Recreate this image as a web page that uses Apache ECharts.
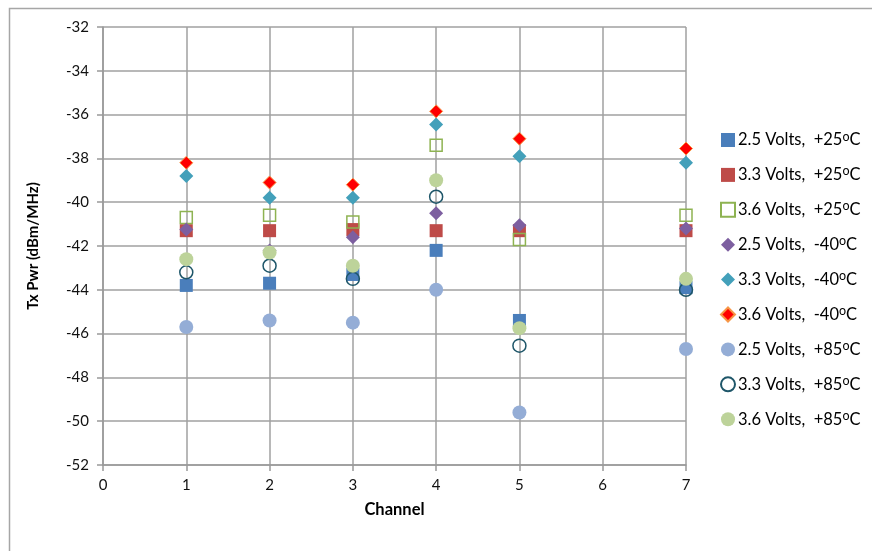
<!DOCTYPE html>
<html>
<head>
<meta charset="utf-8">
<script src="https://cdn.jsdelivr.net/npm/echarts@6/dist/echarts.min.js"></script>
<style>html,body{margin:0;padding:0;background:#fff;}#c{width:872px;height:551px;}</style>
</head>
<body>
<div id="c"></div>
<script>
var channels = [1, 2, 3, 4, 5, 7];
var seriesNames = [
  '2.5 Volts,  +25°C',
  '3.3 Volts,  +25°C',
  '3.6 Volts,  +25°C',
  '2.5 Volts,  -40°C',
  '3.3 Volts,  -40°C',
  '3.6 Volts,  -40°C',
  '2.5 Volts,  +85°C',
  '3.3 Volts,  +85°C',
  '3.6 Volts,  +85°C'
];
var v25_25 = [-43.8, -43.7, -43.3, -42.2, -45.4, -43.9];
var v33_25 = [-41.3, -41.3, -41.25, -41.3, -41.3, -41.3];
var v36_25 = [-40.7, -40.6, -40.9, -37.4, -41.7, -40.6];
var v25_m40 = [-41.25, -42.2, -41.6, -40.5, -41.05, -41.2];
var v33_m40 = [-38.8, -39.8, -39.8, -36.45, -37.9, -38.2];
var v36_m40 = [-38.2, -39.1, -39.2, -35.85, -37.1, -37.55];
var v25_85 = [-45.7, -45.4, -45.5, -44.0, -49.6, -46.7];
var v33_85 = [-43.2, -42.9, -43.5, -39.75, -46.55, -44.0];
var v36_85 = [-42.6, -42.3, -42.9, -39.0, -45.75, -43.5];
var yTicks = [-52, -50, -48, -46, -44, -42, -40, -38, -36, -34, -32];

var allValues = [v25_25, v33_25, v36_25, v25_m40, v33_m40, v36_m40, v25_85, v33_85, v36_85];
var styles = [
  {symbol: 'rect', size: 13, color: '#4A7EBB', border: '#4A7EBB', bw: 0},
  {symbol: 'rect', size: 13, color: '#BE4B48', border: '#BE4B48', bw: 0},
  {symbol: 'rect', size: 12, color: 'rgba(255,255,255,0)', border: '#8EB352', bw: 1.5},
  {symbol: 'diamond', size: 14, color: '#7D5FA0', border: '#7D5FA0', bw: 0},
  {symbol: 'diamond', size: 14, color: '#43A0BA', border: '#43A0BA', bw: 0},
  {symbol: 'diamond', size: 13, color: '#FF0000', border: '#F79646', bw: 1},
  {symbol: 'circle', size: 14, color: '#94ADD6', border: '#94ADD6', bw: 0},
  {symbol: 'circle', size: 13, color: 'rgba(255,255,255,0)', border: '#1E5669', bw: 1.5},
  {symbol: 'circle', size: 14, color: '#BDD39A', border: '#BDD39A', bw: 0}
];

var series = allValues.map(function (vals, i) {
  var s = styles[i];
  return {
    name: seriesNames[i],
    type: 'scatter',
    symbol: s.symbol,
    symbolSize: s.size,
    itemStyle: {color: s.color, borderColor: s.border, borderWidth: s.bw, opacity: 1},
    data: channels.map(function (c, j) { return [c, vals[j]]; }),
    z: 3 + i
  };
});

var FONT = 'Lato';
var chart = echarts.init(document.getElementById('c'));
chart.setOption({
  animation: false,
  backgroundColor: '#fff',
  graphic: [{
    type: 'rect', left: 7, top: 6, shape: {width: 900, height: 600},
    style: {fill: 'none', stroke: '#a6a6a6', lineWidth: 1.5}, silent: true, z: -1
  }],
  grid: {left: 103, right: 186, top: 27, bottom: 86, containLabel: false},
  xAxis: {
    type: 'value', min: 0, max: 7, interval: 1,
    name: 'Channel', nameLocation: 'middle', nameGap: 36,
    nameTextStyle: {fontFamily: FONT, fontWeight: 'bold', fontSize: 16.5, color: '#000'},
    axisLine: {show: true, onZero: false, lineStyle: {color: '#999', width: 1.5}},
    axisTick: {show: true, length: 6, lineStyle: {color: '#999', width: 1.5}},
    axisLabel: {fontFamily: FONT, fontSize: 15, color: '#111', margin: 13},
    splitLine: {show: true, lineStyle: {color: '#a0a0a0', width: 1.5}}
  },
  yAxis: {
    type: 'value', min: yTicks[0], max: yTicks[yTicks.length - 1], interval: 2,
    name: 'Tx Pwr (dBm/MHz)', nameLocation: 'middle', nameGap: 62, nameRotate: 90,
    nameTextStyle: {fontFamily: FONT, fontWeight: 'bold', fontSize: 15, color: '#000'},
    axisLine: {show: true, onZero: false, lineStyle: {color: '#999', width: 1.5}},
    axisTick: {show: true, length: 6, lineStyle: {color: '#999', width: 1.5}},
    axisLabel: {fontFamily: FONT, fontSize: 15, color: '#111', margin: 14},
    splitLine: {show: true, lineStyle: {color: '#a0a0a0', width: 1.5}}
  },
  legend: {
    orient: 'vertical', left: 715, top: 125, itemGap: 14.9,
    itemWidth: 14, itemHeight: 14,
    data: seriesNames,
    formatter: function (name) {
      var parts = name.split('°');
      return '{a|' + parts[0] + '}{s|o}{a|' + parts[1] + '}';
    },
    textStyle: {
      fontFamily: FONT, fontSize: 16.5, color: '#000', lineHeight: 20, padding: [0, 0, 0, -2],
      rich: {
        a: {fontFamily: FONT, fontSize: 16.5, color: '#000', lineHeight: 20},
        s: {fontFamily: FONT, fontSize: 12.5, color: '#000', lineHeight: 11, verticalAlign: 'top'}
      }
    }
  },
  series: series
});
</script>
</body>
</html>
